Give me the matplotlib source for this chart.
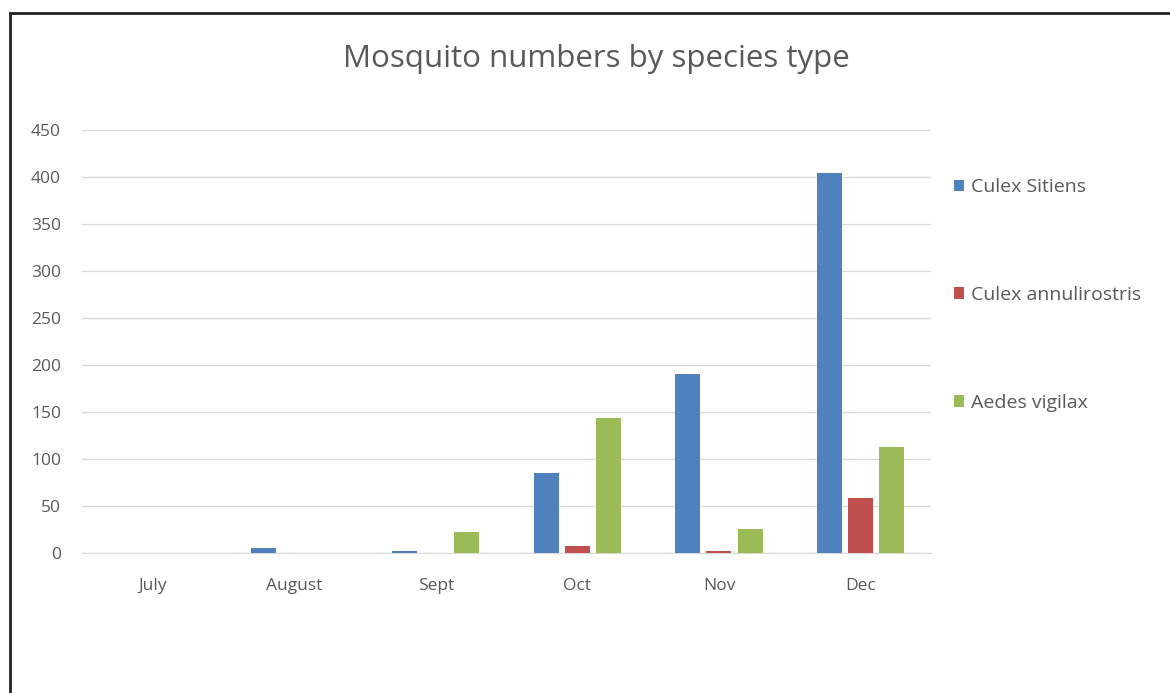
import matplotlib
matplotlib.use('Agg')
import matplotlib.pyplot as plt
import numpy as np
from matplotlib.patches import Rectangle

months = ['July', 'August', 'Sept', 'Oct', 'Nov', 'Dec']
culex_sitiens = [0, 5, 2, 85, 190, 404]
culex_annulirostris = [0, 0, 0, 7, 2, 58]
aedes_vigilax = [0, 0, 22, 144, 26, 113]

series = ['Culex Sitiens', 'Culex annulirostris', 'Aedes vigilax']
colors = ['#4f81bd', '#c0504d', '#9bbb59']
text_col = '#595959'

plt.rcParams['font.family'] = ['Open Sans', 'DejaVu Sans']

fig = plt.figure(figsize=(11.7, 6.93), dpi=100)
ax = fig.add_axes([0.070, 0.2021, 0.726, 0.6103])

x = np.arange(len(months))
width = 0.177
pitch = 0.22
for i, (vals, name, c) in enumerate(zip([culex_sitiens, culex_annulirostris, aedes_vigilax], series, colors)):
    ax.bar(x + (i - 1) * pitch, vals, width, color=c, label=name, zorder=3)

ax.set_xlim(-0.5, len(months) - 0.5)
ax.set_ylim(0, 450)
ax.set_yticks(np.arange(0, 451, 50))
ax.set_xticks(x)
ax.set_xticklabels(months)
ax.grid(axis='y', color='#d9d9d9', linewidth=1, zorder=0)
for s in ['top', 'right', 'left']:
    ax.spines[s].set_visible(False)
ax.spines['bottom'].set_color('#d9d9d9')
ax.tick_params(axis='both', length=0, labelsize=12.5, colors=text_col)
ax.tick_params(axis='y', pad=15)
ax.tick_params(axis='x', pad=18)

fig.text(0.51, 0.915, 'Mosquito numbers by species type', ha='center', va='center',
         fontsize=22.5, color=text_col)

fig.legend(loc='upper left', bbox_to_anchor=(0.800, 0.768), frameon=False,
           fontsize=14, labelcolor=text_col, handlelength=0.55, handleheight=0.55,
           handletextpad=0.35, labelspacing=4.62)

# outer frame
fig.patches.append(Rectangle((10 / 1170, -0.1), 1.2, 1.1 - 13 / 693, transform=fig.transFigure,
                             fill=False, edgecolor='#222222', linewidth=2))

fig.savefig('out.png', dpi=100)
